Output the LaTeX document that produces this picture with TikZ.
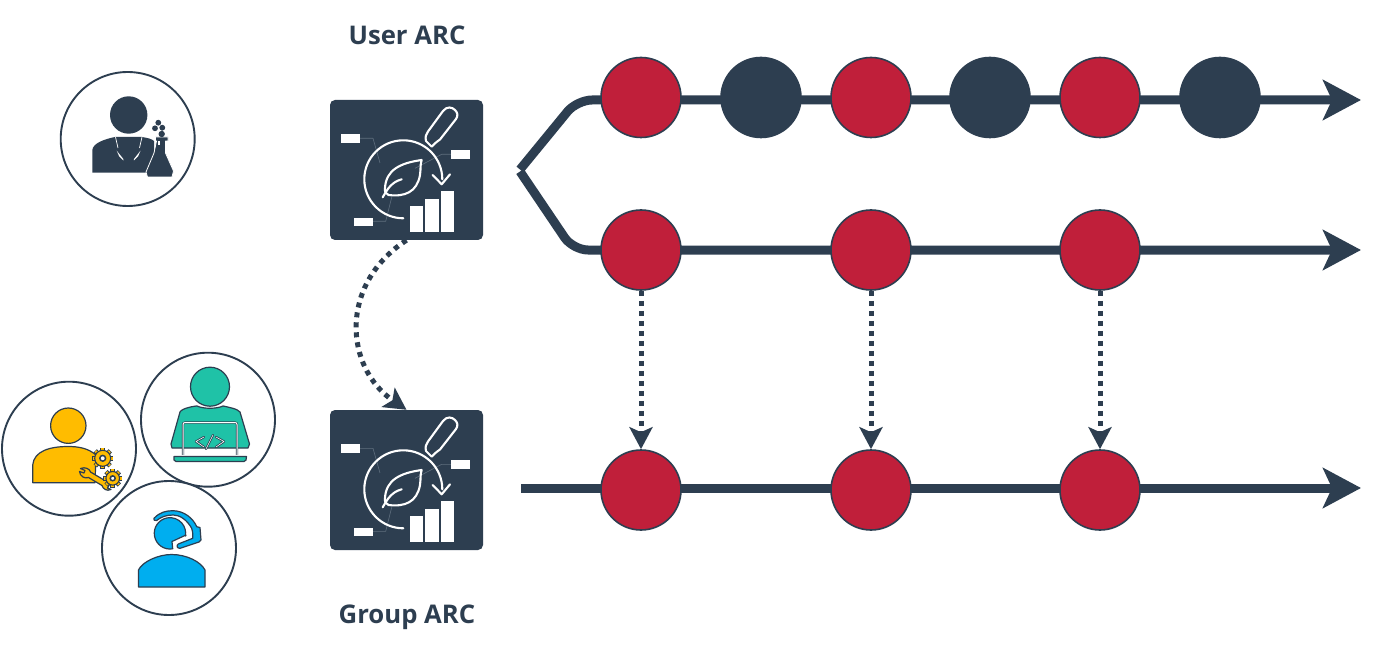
\documentclass[tikz,border=0pt]{standalone}
\usepackage{fontspec}
\setmainfont{Open Sans}
\usetikzlibrary{arrows.meta,backgrounds}
\definecolor{dark}{HTML}{2D3E50}
\definecolor{redc}{HTML}{C01F3A}
\definecolor{yel}{HTML}{FFBC00}
\definecolor{teal2}{HTML}{1FC2A7}
\definecolor{sky}{HTML}{00AEEF}
\definecolor{thin}{HTML}{5F6E7E}
\tikzset{
  dot/.style={circle,draw=dark,line width=1.6pt,minimum size=80pt,inner sep=0pt},
  reddot/.style={dot,fill=redc},
  darkdot/.style={dot,fill=dark},
  card/.style={rectangle,rounded corners=5pt,fill=dark,minimum width=153pt,minimum height=140pt,inner sep=0pt},
  persona/.style={circle,draw=dark,line width=1.9pt,minimum size=134pt,inner sep=0pt,fill=white},
  title/.style={font=\bfseries\fontsize{25.7}{28}\selectfont,text=dark},
  rail/.style={line width=9pt,draw=dark,rounded corners=15pt},
  railtip/.style={-{Stealth[length=38pt,width=40pt,inset=9pt]}},
  dotted line/.style={draw=dark,line width=5pt,dash pattern=on 5pt off 5pt,
     -{Stealth[length=22pt,width=23pt,inset=5pt]}},
  iconline/.style={draw=white,line width=2.1pt,line cap=round,line join=round},
  leader/.style={draw=thin,line width=.6pt},
  fig/.style={draw=dark,line width=1.2pt,line join=round},
}
\newcommand{\arcicon}{%
  \draw[leader] (359.7,138.3)--(373,138.3)--(380,163);
  \draw[leader] (451.3,154.3)--(441.7,154.3)--(415,168.3);
  \draw[leader] (372.7,221.3)--(385.7,221.3)--(391.7,197.3);
  \fill[white] (341,134.3) rectangle (359.7,142.7);
  \fill[white] (451.3,150.3) rectangle (469.7,158.7);
  \fill[white] (354,217.7) rectangle (372.7,225.7);
  \fill[white] (409.7,205.7) rectangle (422.7,232.3);
  \fill[white] (425.3,198.7) rectangle (438.7,232.3);
  \fill[white] (440.7,191.3) rectangle (454,232.3);
  \draw[iconline] (403.3,218.3) arc (90:360:39);
  \draw[iconline] (432.7,175)--(441.7,184.3)--(450,174.3);
  \draw[iconline] (431.7,146.7)--(426,141) .. controls (425,137) and (426,134) .. (428,131.5)
     -- (443,111) .. controls (447,106) and (452,107) .. (455,110)
     .. controls (458,113) and (458,116) .. (456,119)
     -- (440,139.5) .. controls (438,141) and (436,142) .. (431.7,146.7);
  \draw[iconline] (421.7,160) .. controls (400,163) and (386,170) .. (385,188)
     .. controls (384.5,192) and (386,194) .. (388.5,195)
     .. controls (405,197) and (417,192) .. (420,175)
     .. controls (421,168) and (420,165) .. (421.7,160);
  \draw[iconline] (382.7,197.3) .. controls (388,188) and (392,182) .. (401.7,179.3);
}
\newcommand{\gearshape}[3]{%
  \foreach \a in {0,45,...,315} {
    \draw[dark,line width=4.6pt] (#1,#2)++(\a:#3-1)--++(\a:3.6);
  }
  \foreach \a in {0,45,...,315} {
    \draw[yel,line width=2.6pt] (#1,#2)++(\a:#3-1)--++(\a:3.1);
  }
  \draw[fill=yel,draw=dark,line width=1.1pt] (#1,#2) circle (#3);
  \draw[fill=white,draw=dark,line width=1.5pt] (#1,#2) circle (#3*.36);
}
\begin{document}
\begin{tikzpicture}[x=1pt,y=1pt,yscale=-1]
\useasboundingbox (0,0) rectangle (1376,647);

% titles
\node[title] (usertitle) at (407,35) {User ARC};
\node[title] (grouptitle) at (407,617.5) {Group ARC};

% cards
\node[card] (card1) at (406.5,170) {};
\node[card] (card2) at (406.5,480) {};
\arcicon
\begin{scope}[shift={(0,310)}]\arcicon\end{scope}

% persona circles
\node[persona] (sci) at (127.7,139) {};
\node[persona] (dev) at (208,419.7) {};
\node[persona] (ops) at (69,448.7) {};
\node[persona] (sup) at (169,548) {};

% scientist
\fill[dark] (128.7,115) circle (18.7);
\fill[dark] (92.3,172.7) -- (92.3,150) .. controls (93,143) and (105,139) .. (115,137)
   -- (142,137) .. controls (148,138) and (152,139) .. (154,141) -- (154,160) -- (147,172.7) -- cycle;
\fill[white] (116.7,150.7) -- (123.3,159) -- (123.5,160.5) -- (119.3,156.5) -- cycle;
\fill[white] (140.5,150.7) -- (134,159) -- (133.8,160.5) -- (138,156.5) -- cycle;
\draw[white,line width=.7pt] (115.5,137)--(118,148) (142,137)--(139.5,148);
\draw[fill=dark,draw=white,line width=.8pt,line join=round] (155.5,137) -- (168,137) -- (168,141) -- (165.5,141) -- (165.5,153)
   -- (173.5,171) -- (172,177) -- (147.5,177) -- (146,172) -- (154,153) -- (156.5,141) -- (155.5,141) -- cycle;
\fill[white] (157.8,141.5) rectangle (159.6,145.5);
\fill[dark] (158.3,122.7) circle (2.9) (155,128.3) circle (2.9) (162.3,127.7) circle (2.9) (161.7,134) circle (3.2);

% ops person
\draw[fig,fill=yel] (68.3,425.7) circle (17.7);
\draw[fig,fill=yel] (32.7,482.7) -- (32.7,465) .. controls (34,451) and (50,446.5) .. (68,446.5)
  .. controls (78,446.5) and (88,448) .. (96,455) -- (95,482.7) -- cycle;
\draw[fig,fill=yel] (79.5,471.5) -- (84,473) -- (85,470.5) -- (80.5,468.5) .. controls (85,466.5) and (90,469) .. (90.5,472)
  -- (104,480) .. controls (108,478.5) and (113,481) .. (113,486)
  -- (109.5,484.5) -- (107.5,488) -- (111,489.5) .. controls (107,491.5) and (103,489) .. (102,485.5)
  -- (88.5,477.5) .. controls (85,479) and (80,476.5) .. (79.5,471.5) -- cycle;
\gearshape{102.7}{458.3}{8}
\gearshape{112.7}{478.3}{6.8}

% developer
\draw[fig,fill=teal2] (210,386.7) circle (19.5);
\draw[fig,fill=teal2] (172,448) -- (171,444) -- (180,412) .. controls (182,408) and (195,406) .. (197,406)
  .. controls (203,409) and (217,409) .. (223,406) .. controls (228,407) and (238,409) .. (240,412)
  -- (249.5,444) -- (248,448) -- cycle;
\draw[dark,line width=2.2pt,rounded corners=2pt] (183,456)--(183,422.5)--(237,422.5)--(237,456);
\draw[white,line width=1pt,rounded corners=2pt] (183,456)--(183,422.5)--(237,422.5)--(237,456);
\draw[white,line width=1.2pt] (172,455.5)--(248,455.5);
\draw[fig,fill=teal2] (174,456.5) -- (246.5,456.5) -- (246,460) -- (244,461.5) -- (176,461.5) -- (174,460) -- cycle;
\draw[dark,line width=2.2pt,line cap=round,line join=round]
  (204,437)--(196,441.5)--(204,447) (206,449)--(213,435) (216,437)--(224,441.5)--(216,447);
\draw[white,line width=.6pt,line cap=round,line join=round]
  (204,437)--(196,441.5)--(204,447) (206,449)--(213,435) (216,437)--(224,441.5)--(216,447);

% support person
\draw[fig,fill=sky] (154,518.3) .. controls (160,512) and (166,510.7) .. (173.3,510.7)
  .. controls (184,511) and (193,518) .. (196.7,526.7) -- (200,527.5) -- (201,540) -- (199,542)
  -- (180,548.3) .. controls (177,548.5) and (176,545.5) .. (178.3,544)
  -- (192.7,538.3) .. controls (193,533) and (192.5,531) .. (191.7,528.3)
  .. controls (187,520) and (180,515) .. (173.3,515) .. controls (166,515) and (161,517) .. (156.7,520.5)
  .. controls (154.5,521) and (153,520) .. (154,518.3) -- cycle;
\draw[fig,fill=sky] (172.7,548.8) arc (80:370:15.7) -- (186,535) -- (172,541.5) -- cycle;
\draw[fig,fill=sky] (138.5,587) -- (138.5,570) .. controls (142,562) and (158,554.5) .. (171.5,554.5)
  .. controls (187,554.5) and (201,562) .. (205,570) -- (205,587) -- cycle;

% ball nodes
\node[reddot] (a1) at (641,97.5) {};
\node[darkdot] (a2) at (761,97.5) {};
\node[reddot] (a3) at (871,97.5) {};
\node[darkdot] (a4) at (990,97.5) {};
\node[reddot] (a5) at (1100,97.5) {};
\node[darkdot] (a6) at (1220,97.5) {};
\node[reddot] (b1) at (641,250) {};
\node[reddot] (b2) at (871,250) {};
\node[reddot] (b3) at (1100,250) {};
\node[reddot] (c1) at (641,490) {};
\node[reddot] (c2) at (871,490) {};
\node[reddot] (c3) at (1100,490) {};

% free ends
\coordinate (forktop) at (520,169.5);
\coordinate (forkbot) at (520,171.5);
\coordinate (startc) at (521,488);
\coordinate (enda) at (1361,100);
\coordinate (endb) at (1361,250);
\coordinate (endc) at (1361,488);
\coordinate (bend1) at (577,100);
\coordinate (bend2) at (573,250);

\begin{scope}[on background layer]
  \fill[white] (0,0) rectangle (1376,647);
  \draw[rail,railtip] (forktop) -- (bend1) -- (enda);
  \draw[rail,railtip] (forkbot) -- (bend2) -- (endb);
  \draw[rail,railtip] (startc) -- (endc);
\end{scope}

% dotted links
\draw[dotted line] (b1.south) -- (c1.north);
\draw[dotted line] (b2.south) -- (c2.north);
\draw[dotted line] (b3.south) -- (c3.north);
\draw[dotted line] (card1.south) .. controls (338,285) and (345,368) .. (card2.north);
\end{tikzpicture}
\end{document}
